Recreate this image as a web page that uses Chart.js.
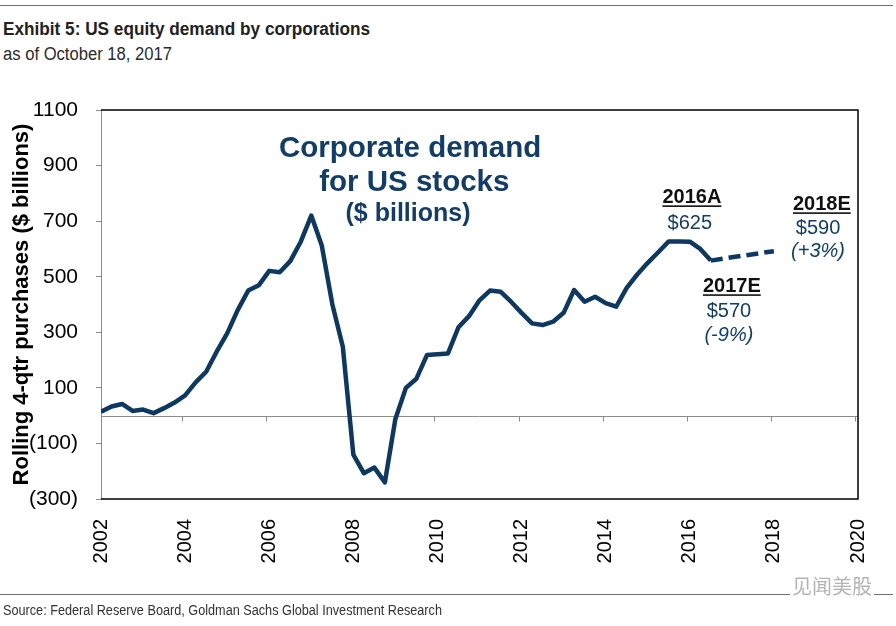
<!DOCTYPE html>
<html>
<head>
<meta charset="utf-8">
<script src="https://cdn.jsdelivr.net/npm/chart.js@4/dist/chart.umd.min.js"></script>
<style>
  html, body { margin: 0; padding: 0; background: #fff; }
  body { width: 896px; height: 626px; position: relative; overflow: hidden; font-family: "Liberation Sans", Arial, sans-serif; }
  .abs { position: absolute; white-space: nowrap; transform-origin: 0 0; }
  #ruleTop { left: 0; top: 5px; width: 893px; height: 1px; background: #6e6e6e; }
  #ruleBot { left: 0; top: 594px; width: 893px; height: 1px; background: #6e6e6e; }
  #title { left: 3px; top: 20px; font-size: 18px; line-height: 18px; font-weight: bold; color: #222; }
  #sub { left: 3px; top: 45px; font-size: 18px; line-height: 18px; color: #2b2b2b; }
  #source { left: 3px; top: 603px; font-size: 14px; line-height: 14px; color: #333; }
  #wm { left: 790px; top: 574px; font-size: 20px; line-height: 24px; color: #b4b4b4; font-family: "Noto Sans CJK SC", sans-serif; background: #fff; padding: 0 2px; }
  #wrap { position: absolute; left: 0; top: 0; width: 896px; height: 626px; }
</style>
</head>
<body>
<div id="ruleTop" class="abs"></div>
<div id="title" class="abs" data-w="367">Exhibit 5: US equity demand by corporations</div>
<div id="sub" class="abs" data-w="169">as of October 18, 2017</div>
<div id="wrap"><canvas id="c"></canvas></div>
<div id="ruleBot" class="abs"></div>
<div id="wm" class="abs">见闻美股</div>
<div id="source" class="abs" data-w="439">Source: Federal Reserve Board, Goldman Sachs Global Investment Research</div>
<script>
// ---- data ----
const startYear = 2002;              // first quarter plotted (2002 Q1)
const quarterlyDemand = [            // rolling 4-qtr corporate purchases, $ billions, quarterly
  14, 33, 42, 17, 22, 9, 27, 47,
  73, 120, 158, 230, 296, 380, 450, 469,
  521, 516, 556, 626, 720, 612, 401, 248,
  -140, -207, -187, -240, -12, 100, 133, 218,
  221, 224, 318, 358, 415, 450, 446, 410,
  370, 332, 326, 338, 370, 452, 410, 428,
  405, 392, 460, 508, 550, 588, 627, 627,
  626, 600, 558
];
const estimateYears = [2016.5, 2017, 2018];
const estimateDemand = [558, 570, 592];
const xTickYears = [2002, 2004, 2006, 2008, 2010, 2012, 2014, 2016, 2018, 2020];
const yTickValues = [-300, -100, 100, 300, 500, 700, 900, 1100];
const annotations = [
  { text: 'Corporate demand', x: 2009.35, y: 930, font: 'bold 29.5px "Liberation Sans"', color: '#123d68' },
  { text: 'for US stocks',    x: 2009.45, y: 808, font: 'bold 29.5px "Liberation Sans"', color: '#123d68' },
  { text: '($ billions)',     x: 2009.3,  y: 700, font: 'bold 25px "Liberation Sans"', color: '#123d68' },
  { text: '2016A', x: 2016.05, y: 764, font: 'bold 20px "Liberation Sans"', color: '#111', underline: true },
  { text: '$625',  x: 2016.0,  y: 671, font: '20px "Liberation Sans"', color: '#123d68' },
  { text: '2018E', x: 2019.14, y: 739, font: 'bold 20px "Liberation Sans"', color: '#111', underline: true },
  { text: '$590',  x: 2019.05, y: 652, font: '20px "Liberation Sans"', color: '#123d68' },
  { text: '(+3%)', x: 2019.05, y: 570, font: 'italic 20px "Liberation Sans"', color: '#123d68' },
  { text: '2017E', x: 2017.0,  y: 444, font: 'bold 20px "Liberation Sans"', color: '#111', underline: true },
  { text: '$570',  x: 2016.93, y: 354, font: '20px "Liberation Sans"', color: '#123d68' },
  { text: '(-9%)', x: 2016.93, y: 268, font: 'italic 20px "Liberation Sans"', color: '#123d68' }
];

// fit narrow header/footer text widths
(function fitText() {
  const cv = document.createElement('canvas').getContext('2d');
  document.querySelectorAll('[data-w]').forEach(el => {
    const cs = getComputedStyle(el);
    cv.font = `${cs.fontWeight} ${cs.fontSize} "Liberation Sans"`;
    const w = cv.measureText(el.textContent).width;
    el.style.transform = `scaleX(${(+el.dataset.w / w).toFixed(4)})`;
  });
})();

const lineColor = '#0d3862';
const actualPoints = quarterlyDemand.map((v, i) => ({ x: startYear + i * 0.25, y: v }));
const estimatePoints = estimateYears.map((yr, i) => ({ x: yr, y: estimateDemand[i] }));

const framePlugin = {
  id: 'frame',
  beforeDatasetsDraw(chart) {
    const { ctx, chartArea: a, scales: { x, y } } = chart;
    ctx.save();
    // zero line with tick marks
    const y0 = Math.round(y.getPixelForValue(0)) + 0.5;
    ctx.strokeStyle = '#8c8c8c';
    ctx.lineWidth = 1;
    ctx.beginPath();
    ctx.moveTo(a.left, y0); ctx.lineTo(a.right, y0);
    xTickYears.slice(1).forEach(t => {
      const px = Math.round(x.getPixelForValue(t)) - 2.5;
      ctx.moveTo(px, y0); ctx.lineTo(px, y0 + 5);
    });
    ctx.stroke();
    // top, right, bottom frame
    ctx.strokeStyle = '#000';
    ctx.lineWidth = 1.5;
    ctx.beginPath();
    ctx.moveTo(a.left, a.top); ctx.lineTo(a.right, a.top); ctx.lineTo(a.right, a.bottom); ctx.lineTo(a.left, a.bottom);
    ctx.stroke();
    ctx.restore();
  },
  afterDatasetsDraw(chart) {
    const { ctx, scales: { x, y } } = chart;
    ctx.save();
    ctx.textAlign = 'center';
    ctx.textBaseline = 'alphabetic';
    annotations.forEach(an => {
      const px = x.getPixelForValue(an.x), py = y.getPixelForValue(an.y);
      ctx.font = an.font;
      ctx.fillStyle = an.color;
      ctx.fillText(an.text, px, py);
      if (an.underline) {
        const w = ctx.measureText(an.text).width;
        ctx.fillRect(px - w / 2, py + 2, w, 1.6);
      }
    });
    ctx.restore();
  }
};

new Chart(document.getElementById('c'), {
  type: 'line',
  data: {
    datasets: [
      { data: actualPoints, borderColor: lineColor, borderWidth: 4.5, pointRadius: 0, tension: 0,
        borderJoinStyle: 'round', borderCapStyle: 'butt', fill: false },
      { data: estimatePoints, borderColor: lineColor, borderWidth: 4.5, pointRadius: 0, tension: 0,
        borderDash: [12, 6], borderCapStyle: 'butt', fill: false }
    ]
  },
  options: {
    responsive: true,
    maintainAspectRatio: false,
    animation: false,
    devicePixelRatio: 1,
    layout: { padding: { left: 0, top: 110, right: 38, bottom: 0 } },
    plugins: { legend: { display: false }, tooltip: { enabled: false } },
    scales: {
      x: {
        type: 'linear', min: 2002, max: 2020,
        afterBuildTicks(s) { s.ticks = xTickYears.map(v => ({ value: v })); },
        afterFit(s) { s.height = 127; },
        ticks: { autoSkip: false, minRotation: 90, maxRotation: 90, padding: 12,
                 color: '#000', font: { family: '"Liberation Sans"', size: 20 },
                 callback: v => String(v) },
        grid: { display: false },
        border: { display: false }
      },
      y: {
        type: 'linear', min: -300, max: 1100,
        afterBuildTicks(s) { s.ticks = yTickValues.map(v => ({ value: v })); },
        afterFit(s) { s.width = 101; },
        ticks: { autoSkip: false, padding: 18, color: '#000',
                 font: { family: '"Liberation Sans"', size: 21 },
                 callback: v => v < 0 ? `(${-v})` : String(v) },
        grid: { drawOnChartArea: false, drawTicks: true, tickLength: 5, color: '#8c8c8c' },
        border: { display: true, color: '#8c8c8c', width: 1 },
        title: { display: true, text: 'Rolling 4-qtr purchases ($ billions)', color: '#000',
                 font: { family: '"Liberation Sans"', size: 22, weight: 'bold' }, padding: { top: 9, bottom: 0 } }
      }
    }
  },
  plugins: [framePlugin]
});
</script>
</body>
</html>
